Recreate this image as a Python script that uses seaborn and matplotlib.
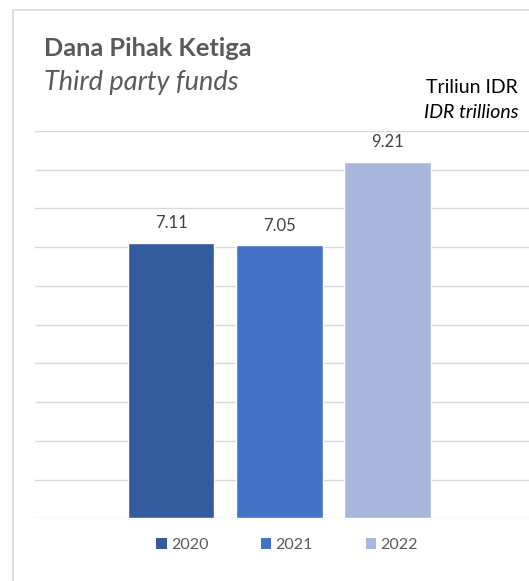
import matplotlib
matplotlib.use("Agg")
import matplotlib.pyplot as plt
import seaborn as sns
from matplotlib.lines import Line2D
from matplotlib.patches import Patch

# Values
years = ["2020", "2021", "2022"]
funds = [7.11, 7.05, 9.21]
bar_colors = ["#335C9E", "#4472C4", "#A8B6DB"]

sns.set_style("white")
plt.rcParams["font.family"] = ["Lato", "DejaVu Sans"]

fig = plt.figure(figsize=(5.29, 5.81), dpi=100)
ax = fig.add_axes([0.066, 0.108, 0.934, 0.6665])

sns.barplot(x=years, y=funds, hue=years, palette=bar_colors, width=0.8,
            legend=False, ax=ax, saturation=1)

ax.set_ylim(0, 10)
ax.set_xlim(-1.26, 3.31)
ax.set_yticks(range(0, 11))
ax.yaxis.grid(True, color="#D9D9D9", linewidth=1)
ax.set_axisbelow(True)
ax.set_xticks([])
ax.set_yticklabels([])
ax.tick_params(left=False, bottom=False)
ax.set_xlabel("")
ax.set_ylabel("")
for s in ax.spines.values():
    s.set_visible(False)

# value labels
for i, v in enumerate(funds):
    ax.text(i, v + 0.3, f"{v:.2f}", ha="center", va="bottom",
            fontsize=12, color="#404040")

# titles
fig.text(44 / 529, 1 - 48 / 581, "Dana Pihak Ketiga", fontsize=18.3,
         fontweight="bold", color="#595959", va="center", ha="left")
fig.text(44 / 529, 1 - 83 / 581, "Third party funds", fontsize=19.5,
         style="italic", color="#595959", va="center", ha="left")
fig.text(518 / 529, 1 - 87 / 581, "Triliun IDR", fontsize=14,
         color="#000000", va="center", ha="right")
fig.text(518 / 529, 1 - 113 / 581, "IDR trillions", fontsize=14,
         style="italic", color="#000000", va="center", ha="right")

# legend
handles = [Patch(facecolor=c, edgecolor="none") for c in bar_colors]
fig.legend(handles, years, loc="center", bbox_to_anchor=(287 / 529, 1 - 545 / 581),
           ncol=3, frameon=False, fontsize=11.5, handlelength=0.65, handleheight=0.65,
           handletextpad=0.26, columnspacing=3.3, labelcolor="#595959")

# light outer frame (top and left edges)
fig.add_artist(Line2D([13 / 529, 13 / 529], [0, 1 - 10 / 581],
                      transform=fig.transFigure, color="#D9D9D9", linewidth=1.2))
fig.add_artist(Line2D([13 / 529, 1], [1 - 10 / 581, 1 - 10 / 581],
                      transform=fig.transFigure, color="#D9D9D9", linewidth=1.2))

fig.savefig("out.png", dpi=100)
